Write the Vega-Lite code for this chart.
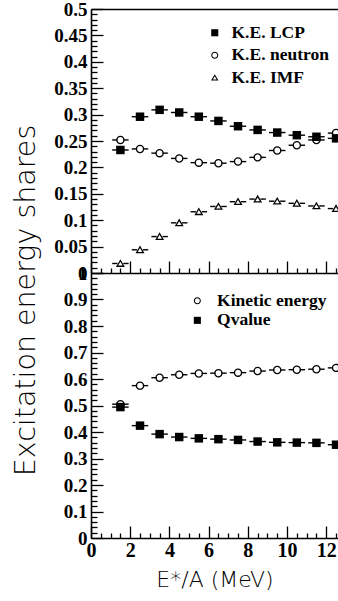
{
  "$schema": "https://vega.github.io/schema/vega-lite/v6.json",
  "background": "white",
  "autosize": {"type": "pad"},
  "padding": {"left": 11, "top": 0, "right": 0, "bottom": 0},
  "spacing": 0,
  "bounds": "flush",
  "config": {
    "view": {"stroke": null},
    "axis": {
      "grid": false,
      "domainColor": "black",
      "domainWidth": 1.6,
      "tickColor": "black",
      "tickWidth": 1.3,
      "labelColor": "black",
      "labelFont": "Liberation Serif",
      "labelFontWeight": "bold",
      "labelFlush": false,
      "labelOverlap": false,
      "titleColor": "black",
      "titleFont": "DejaVu Sans",
      "titleFontWeight": 200
    },
    "legend": {
      "padding": 0,
      "labelFont": "Liberation Serif",
      "labelFontWeight": "bold",
      "labelFontSize": 17.5,
      "labelColor": "black",
      "symbolFillColor": "black",
      "symbolStrokeWidth": 0,
      "symbolSize": 50
    }
  },
  "datasets": {
    "shares": [
      {"x": 1.5, "series": "K.E. LCP", "y": 0.233, "xerr": 0.42},
      {"x": 2.5, "series": "K.E. LCP", "y": 0.296, "xerr": 0.42},
      {"x": 3.5, "series": "K.E. LCP", "y": 0.309, "xerr": 0.42},
      {"x": 4.5, "series": "K.E. LCP", "y": 0.304, "xerr": 0.42},
      {"x": 5.5, "series": "K.E. LCP", "y": 0.296, "xerr": 0.42},
      {"x": 6.5, "series": "K.E. LCP", "y": 0.288, "xerr": 0.42},
      {"x": 7.5, "series": "K.E. LCP", "y": 0.278, "xerr": 0.42},
      {"x": 8.5, "series": "K.E. LCP", "y": 0.271, "xerr": 0.42},
      {"x": 9.5, "series": "K.E. LCP", "y": 0.266, "xerr": 0.42},
      {"x": 10.5, "series": "K.E. LCP", "y": 0.261, "xerr": 0.42},
      {"x": 11.5, "series": "K.E. LCP", "y": 0.258, "xerr": 0.42},
      {"x": 12.5, "series": "K.E. LCP", "y": 0.255, "xerr": 0.42},
      {"x": 1.5, "series": "K.E. neutron", "y": 0.252, "xerr": 0.42},
      {"x": 2.5, "series": "K.E. neutron", "y": 0.235, "xerr": 0.42},
      {"x": 3.5, "series": "K.E. neutron", "y": 0.227, "xerr": 0.42},
      {"x": 4.5, "series": "K.E. neutron", "y": 0.217, "xerr": 0.42},
      {"x": 5.5, "series": "K.E. neutron", "y": 0.209, "xerr": 0.42},
      {"x": 6.5, "series": "K.E. neutron", "y": 0.208, "xerr": 0.42},
      {"x": 7.5, "series": "K.E. neutron", "y": 0.211, "xerr": 0.42},
      {"x": 8.5, "series": "K.E. neutron", "y": 0.219, "xerr": 0.42},
      {"x": 9.5, "series": "K.E. neutron", "y": 0.232, "xerr": 0.42},
      {"x": 10.5, "series": "K.E. neutron", "y": 0.242, "xerr": 0.42},
      {"x": 11.5, "series": "K.E. neutron", "y": 0.252, "xerr": 0.42},
      {"x": 12.5, "series": "K.E. neutron", "y": 0.265, "xerr": 0.42},
      {"x": 1.5, "series": "K.E. IMF", "y": 0.018, "xerr": 0.42},
      {"x": 2.5, "series": "K.E. IMF", "y": 0.044, "xerr": 0.42},
      {"x": 3.5, "series": "K.E. IMF", "y": 0.069, "xerr": 0.42},
      {"x": 4.5, "series": "K.E. IMF", "y": 0.095, "xerr": 0.42},
      {"x": 5.5, "series": "K.E. IMF", "y": 0.116, "xerr": 0.42},
      {"x": 6.5, "series": "K.E. IMF", "y": 0.126, "xerr": 0.42},
      {"x": 7.5, "series": "K.E. IMF", "y": 0.135, "xerr": 0.42},
      {"x": 8.5, "series": "K.E. IMF", "y": 0.140, "xerr": 0.42},
      {"x": 9.5, "series": "K.E. IMF", "y": 0.136, "xerr": 0.42},
      {"x": 10.5, "series": "K.E. IMF", "y": 0.132, "xerr": 0.42},
      {"x": 11.5, "series": "K.E. IMF", "y": 0.127, "xerr": 0.42},
      {"x": 12.5, "series": "K.E. IMF", "y": 0.122, "xerr": 0.42}
    ],
    "totals": [
      {"x": 1.5, "series": "Kinetic energy", "y": 0.505, "xerr": 0.42},
      {"x": 2.5, "series": "Kinetic energy", "y": 0.575, "xerr": 0.42},
      {"x": 3.5, "series": "Kinetic energy", "y": 0.605, "xerr": 0.42},
      {"x": 4.5, "series": "Kinetic energy", "y": 0.616, "xerr": 0.42},
      {"x": 5.5, "series": "Kinetic energy", "y": 0.621, "xerr": 0.42},
      {"x": 6.5, "series": "Kinetic energy", "y": 0.622, "xerr": 0.42},
      {"x": 7.5, "series": "Kinetic energy", "y": 0.624, "xerr": 0.42},
      {"x": 8.5, "series": "Kinetic energy", "y": 0.630, "xerr": 0.42},
      {"x": 9.5, "series": "Kinetic energy", "y": 0.634, "xerr": 0.42},
      {"x": 10.5, "series": "Kinetic energy", "y": 0.635, "xerr": 0.42},
      {"x": 11.5, "series": "Kinetic energy", "y": 0.637, "xerr": 0.42},
      {"x": 12.5, "series": "Kinetic energy", "y": 0.642, "xerr": 0.42},
      {"x": 1.5, "series": "Qvalue", "y": 0.494, "xerr": 0.42},
      {"x": 2.5, "series": "Qvalue", "y": 0.424, "xerr": 0.42},
      {"x": 3.5, "series": "Qvalue", "y": 0.392, "xerr": 0.42},
      {"x": 4.5, "series": "Qvalue", "y": 0.381, "xerr": 0.42},
      {"x": 5.5, "series": "Qvalue", "y": 0.376, "xerr": 0.42},
      {"x": 6.5, "series": "Qvalue", "y": 0.373, "xerr": 0.42},
      {"x": 7.5, "series": "Qvalue", "y": 0.370, "xerr": 0.42},
      {"x": 8.5, "series": "Qvalue", "y": 0.364, "xerr": 0.42},
      {"x": 9.5, "series": "Qvalue", "y": 0.361, "xerr": 0.42},
      {"x": 10.5, "series": "Qvalue", "y": 0.360, "xerr": 0.42},
      {"x": 11.5, "series": "Qvalue", "y": 0.359, "xerr": 0.42},
      {"x": 12.5, "series": "Qvalue", "y": 0.352, "xerr": 0.42}
    ]
  },
  "vconcat": [
    {
      "width": 247,
      "height": 264,
      "data": {"name": "shares"},
      "layer": [
        {
          "mark": {"type": "point", "opacity": 0},
          "encoding": {
            "x": {
              "field": "x", "type": "quantitative",
              "scale": {"domain": [0, 12.6], "nice": false, "zero": false},
              "axis": {"orient": "bottom", "values": [0.5, 1, 1.5, 2.5, 3, 3.5, 4.5, 5, 5.5, 6.5, 7, 7.5, 8.5, 9, 9.5, 10.5, 11, 11.5, 12.5], "tickSize": -5, "labels": false, "domain": false, "title": null}
            },
            "y": {
              "field": "y", "type": "quantitative",
              "scale": {"domain": [0, 0.5], "nice": false},
              "axis": {"orient": "left", "values": [0.01, 0.02, 0.03, 0.04, 0.06, 0.07, 0.08, 0.09, 0.11, 0.12, 0.13, 0.14, 0.16, 0.17, 0.18, 0.19, 0.21, 0.22, 0.23, 0.24, 0.26, 0.27, 0.28, 0.29, 0.31, 0.32, 0.33, 0.34, 0.36, 0.37, 0.38, 0.39, 0.41, 0.42, 0.43, 0.44, 0.46, 0.47, 0.48, 0.49], "tickSize": -6, "labels": false, "domain": false, "title": null}
            }
          }
        },
        {
          "mark": {"type": "point", "opacity": 0},
          "encoding": {
            "x": {"field": "x", "type": "quantitative", "axis": {"orient": "top", "ticks": false, "labels": false, "title": null}},
            "y": {"field": "y", "type": "quantitative", "axis": null}
          }
        },
        {
          "mark": {"type": "errorbar", "ticks": false, "thickness": 1.4, "color": "black"},
          "encoding": {
            "x": {"field": "x", "type": "quantitative", "axis": null},
            "xError": {"field": "xerr"},
            "y": {"field": "y", "type": "quantitative", "axis": null}
          }
        },
        {
          "mark": {"type": "point", "filled": true, "color": "white", "shape": "circle", "strokeWidth": 0, "opacity": 1, "size": 34},
          "encoding": {
            "x": {"field": "x", "type": "quantitative", "axis": null},
            "y": {"field": "y", "type": "quantitative", "axis": null}
          }
        },
        {
          "mark": {"type": "point", "filled": true, "color": "black", "strokeWidth": 0, "opacity": 1, "size": 72},
          "encoding": {
            "x": {
              "field": "x", "type": "quantitative",
              "axis": {"orient": "bottom", "values": [0, 2, 4, 6, 8, 10, 12], "tickSize": -12, "labels": false, "title": null}
            },
            "y": {
              "field": "y", "type": "quantitative",
              "axis": {
                "orient": "left",
                "values": [0, 0.05, 0.1, 0.15, 0.2, 0.25, 0.3, 0.35, 0.4, 0.45, 0.5],
                "format": "~g",
                "tickSize": -12,
                "labelPadding": 16,
                "labelFontSize": 19,
                "title": "Excitation energy shares",
                "titleFontSize": 28.5,
                "titleAngle": 270,
                "titleAlign": "center",
                "titleBaseline": "middle",
                "titleX": -66,
                "titleY": 291
              }
            },
            "shape": {
              "field": "series", "type": "nominal",
              "scale": {
                "domain": ["K.E. LCP", "K.E. neutron", "K.E. IMF"],
                "range": [
                  "square",
                  "M1,0A1,1,0,1,1,-1,0A1,1,0,1,1,1,0Z M0.7,0A0.7,0.7,0,1,0,-0.7,0A0.7,0.7,0,1,0,0.7,0Z",
                  "M0,-1L1.05,0.8L-1.05,0.8Z M0,-0.4L-0.53,0.5L0.53,0.5Z"
                ]
              },
              "legend": {"orient": "none", "legendX": 115, "legendY": 15, "title": null, "rowPadding": 3.5, "labelOffset": 8}
            }
          }
        }
      ],
      "resolve": {"axis": {"x": "independent", "y": "independent"}}
    },
    {
      "width": 247,
      "height": 265,
      "data": {"name": "totals"},
      "layer": [
        {
          "mark": {"type": "point", "opacity": 0},
          "encoding": {
            "x": {
              "field": "x", "type": "quantitative",
              "scale": {"domain": [0, 12.6], "nice": false, "zero": false},
              "axis": {"orient": "bottom", "values": [0.5, 1, 1.5, 2.5, 3, 3.5, 4.5, 5, 5.5, 6.5, 7, 7.5, 8.5, 9, 9.5, 10.5, 11, 11.5, 12.5], "tickSize": -5, "labels": false, "domain": false, "title": null}
            },
            "y": {
              "field": "y", "type": "quantitative",
              "scale": {"domain": [0, 1], "nice": false},
              "axis": {"orient": "left", "values": [0.02, 0.04, 0.06, 0.08, 0.12, 0.14, 0.16, 0.18, 0.22, 0.24, 0.26, 0.28, 0.32, 0.34, 0.36, 0.38, 0.42, 0.44, 0.46, 0.48, 0.52, 0.54, 0.56, 0.58, 0.62, 0.64, 0.66, 0.68, 0.72, 0.74, 0.76, 0.78, 0.82, 0.84, 0.86, 0.88, 0.92, 0.94, 0.96, 0.98], "tickSize": -6, "labels": false, "domain": false, "title": null}
            }
          }
        },
        {
          "mark": {"type": "errorbar", "ticks": false, "thickness": 1.4, "color": "black"},
          "encoding": {
            "x": {"field": "x", "type": "quantitative", "axis": null},
            "xError": {"field": "xerr"},
            "y": {"field": "y", "type": "quantitative", "axis": null}
          }
        },
        {
          "mark": {"type": "point", "filled": true, "color": "white", "shape": "circle", "strokeWidth": 0, "opacity": 1, "size": 34},
          "encoding": {
            "x": {"field": "x", "type": "quantitative", "axis": null},
            "y": {"field": "y", "type": "quantitative", "axis": null}
          }
        },
        {
          "mark": {"type": "point", "filled": true, "color": "black", "strokeWidth": 0, "opacity": 1, "size": 72},
          "encoding": {
            "x": {
              "field": "x", "type": "quantitative",
              "axis": {
                "orient": "bottom",
                "values": [0, 2, 4, 6, 8, 10, 12],
                "tickSize": -12,
                "labelPadding": 14,
                "labelFontSize": 20,
                "title": "E*/A (MeV)",
                "titleFontSize": 22,
                "titlePadding": 9
              }
            },
            "y": {
              "field": "y", "type": "quantitative",
              "axis": {
                "orient": "left",
                "values": [0, 0.1, 0.2, 0.3, 0.4, 0.5, 0.6, 0.7, 0.8, 0.9, 1],
                "format": "~g",
                "tickSize": -12,
                "labelPadding": 16,
                "labelFontSize": 19,
                "title": null
              }
            },
            "shape": {
              "field": "series", "type": "nominal",
              "scale": {
                "domain": ["Kinetic energy", "Qvalue"],
                "range": [
                  "M1,0A1,1,0,1,1,-1,0A1,1,0,1,1,1,0Z M0.7,0A0.7,0.7,0,1,0,-0.7,0A0.7,0.7,0,1,0,0.7,0Z",
                  "square"
                ]
              },
              "legend": {"orient": "none", "legendX": 97.6, "legendY": 19, "title": null, "rowPadding": 0.6, "labelOffset": 11}
            }
          }
        }
      ],
      "resolve": {"axis": {"x": "independent", "y": "independent"}}
    }
  ],
  "resolve": {
    "scale": {"shape": "independent"},
    "legend": {"shape": "independent"}
  }
}
